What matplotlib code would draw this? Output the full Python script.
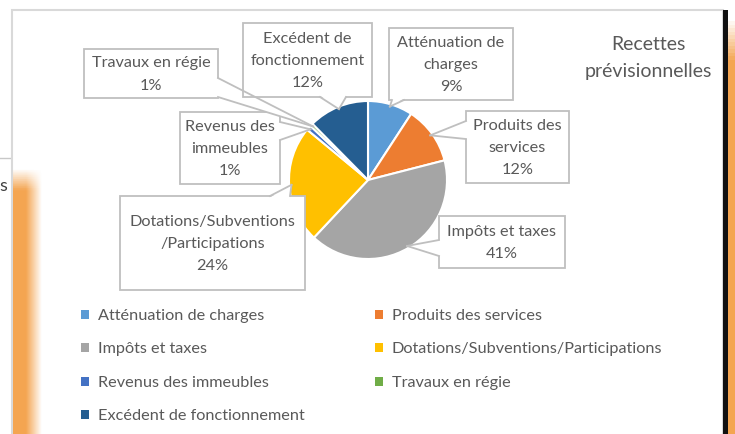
import numpy as np
import matplotlib
matplotlib.use("Agg")
from matplotlib import pyplot as plt
from matplotlib.patches import Rectangle, Polygon, Patch

plt.rcParams['font.family'] = ['Lato', 'DejaVu Sans']

# data
categories = ['Atténuation de charges', 'Produits des services', 'Impôts et taxes',
              'Dotations/Subventions/Participations', 'Revenus des immeubles',
              'Travaux en régie', 'Excédent de fonctionnement']
callout_names = ['Atténuation de\ncharges', 'Produits des\nservices', 'Impôts et taxes',
                 'Dotations/Subventions\n/Participations', 'Revenus des\nimmeubles',
                 'Travaux en régie', 'Excédent de\nfonctionnement']
shares = [9.2, 11.8, 41.0, 24.0, 1.0, 0.6, 12.4]
colors = ['#5b9bd5', '#ed7d31', '#a5a5a5', '#ffc000', '#4472c4', '#70ad47', '#255e91']
title = 'Recettes\nprévisionnelles'

# layout (pixels, origin top-left)
W, H = 735, 434
CX, CY, R = 368, 180, 79
boxes = [(389, 28, 513, 100), (466, 111, 569, 183), (439, 216, 565, 268),
         (120, 196, 305, 290), (180, 112, 280, 184), (84, 49, 218, 98),
         (243, 23, 372, 97)]
bases = [('bottom', 392, 404), ('left', 121, 139), ('left', 240, 256),
         ('top', 270, 290), ('right', 122, 140), ('right', 78, 97),
         ('bottom', 320, 346)]
text_col = '#595959'
edge_col = '#bfbfbf'
fs = 11.7

fig = plt.figure(figsize=(W / 100, H / 100), dpi=100)

# background: screenshot surroundings + chart area
bg = fig.add_axes([0, 0, 1, 1], zorder=0)
bg.set_xlim(0, W)
bg.set_ylim(H, 0)
bg.axis('off')
bg.add_patch(Rectangle((-5, 158), 17, 300, fc='white', ec='#c8c8c8', lw=1))
bg.text(3, 186, 's', fontsize=13, color='#404040', ha='center', va='center')
bg.add_patch(Rectangle((12, 10), 711, 430, fc='white', ec='#d9d9d9', lw=1.5))

orange = np.array([0.96, 0.65, 0.32])
xs = np.linspace(0, 1, 60)
ys = np.linspace(0, 1, 120)
ax_fade = np.clip((1 - xs) / 0.55, 0, 1)
ay_fade = np.clip(ys / 0.08, 0, 1)
img = np.zeros((len(ys), len(xs), 4))
img[..., :3] = orange
img[..., 3] = np.outer(ay_fade, ax_fade)
bg.imshow(img, extent=(13, 42, H, 168), aspect='auto', zorder=2)

bg.add_patch(Rectangle((723, 10), 5, 430, fc='#111111', ec='none', zorder=2))
img_r = np.zeros((120, 2, 4))
img_r[..., :3] = orange
img_r[..., 3] = np.clip(ys / 0.1, 0, 1)[:, None]
bg.imshow(img_r, extent=(728, 735, H, 18), aspect='auto', zorder=2)

# pie
ax = fig.add_axes([(CX - R) / W, 1 - (CY + R) / H, 2 * R / W, 2 * R / H], zorder=2)
wedges, _ = ax.pie(shares, colors=colors, startangle=90, counterclock=False,
                   wedgeprops=dict(edgecolor='white', linewidth=1.5))
ax.set_xlim(-1, 1)
ax.set_ylim(-1, 1)

# callouts
ov = fig.add_axes([0, 0, 1, 1], zorder=5)
ov.set_xlim(0, W)
ov.set_ylim(H, 0)
ov.axis('off')
ov.patch.set_visible(False)

for i, w in enumerate(wedges):
    mid = np.deg2rad((w.theta1 + w.theta2) / 2)
    tip = (CX + 0.97 * R * np.cos(mid), CY - 0.97 * R * np.sin(mid))
    x0, y0, x1, y1 = boxes[i]
    side, a, b = bases[i]
    if side == 'left':
        p1, p2 = (x0, a), (x0, b)
        q1, q2 = (x0 + 1.5, a), (x0 + 1.5, b)
    elif side == 'right':
        p1, p2 = (x1, a), (x1, b)
        q1, q2 = (x1 - 1.5, a), (x1 - 1.5, b)
    elif side == 'top':
        p1, p2 = (a, y0), (b, y0)
        q1, q2 = (a, y0 + 1.5), (b, y0 + 1.5)
    else:
        p1, p2 = (a, y1), (b, y1)
        q1, q2 = (a, y1 - 1.5), (b, y1 - 1.5)
    ov.add_patch(Rectangle((x0, y0), x1 - x0, y1 - y0, fc='white', ec=edge_col, lw=1.3))
    ov.add_patch(Polygon([q1, q2, tip], closed=True, fc='white', ec='none'))
    ov.plot([p1[0], tip[0]], [p1[1], tip[1]], color=edge_col, lw=1.3)
    ov.plot([p2[0], tip[0]], [p2[1], tip[1]], color=edge_col, lw=1.3)
    label = callout_names[i] + '\n' + str(int(shares[i] + 0.5)) + '%'
    ov.text((x0 + x1) / 2, (y0 + y1) / 2 + 1, label, ha='center', va='center',
            fontsize=fs, color=text_col, linespacing=1.75)

ov.text(648, 58, title, ha='center', va='center', fontsize=14, color=text_col,
        linespacing=1.7)

# legend, row-major order like the original
order = [0, 2, 4, 6, 1, 3, 5]
handles = [Patch(facecolor=colors[k], edgecolor='none') for k in order]
fig.legend(handles, [categories[k] for k in order], loc='upper left',
           bbox_to_anchor=(81 / W, 1 - 309 / H), ncol=2, frameon=False,
           fontsize=fs, labelcolor=text_col, handlelength=0.5, handleheight=0.5,
           handletextpad=0.55, columnspacing=4.3, labelspacing=1.2,
           borderpad=0, borderaxespad=0)

fig.savefig('out.png', dpi=100)
